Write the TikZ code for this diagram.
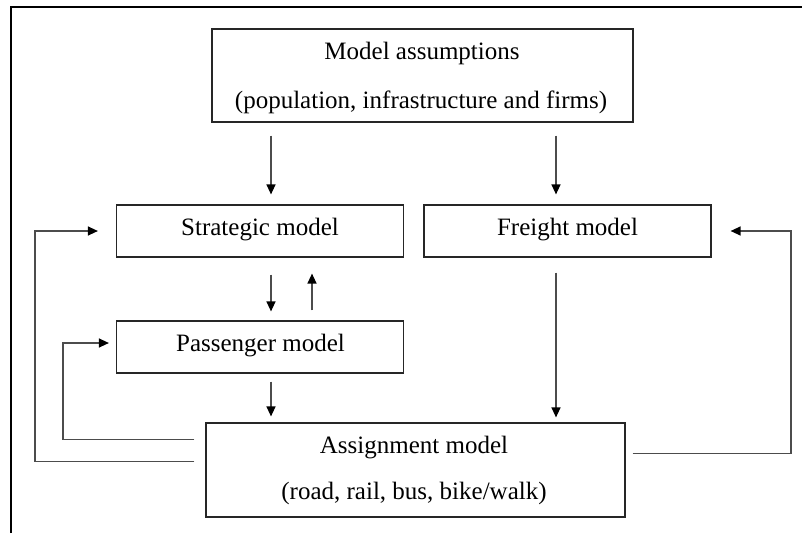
\documentclass[tikz,border=0pt]{standalone}
\usepackage{fontspec}
\setmainfont{Liberation Serif}
\usetikzlibrary{arrows.meta}
\begin{document}
\begin{tikzpicture}[x=1pt,y=-1pt,
  box/.style={draw=black!85, line width=1.2pt, rectangle, inner sep=0pt},
  txt/.style={anchor=base, inner sep=0pt, font=\fontsize{25}{30}\selectfont, text=black},
  arr/.style={draw=black!70, line width=1.3pt, -{Triangle[length=10pt,width=9pt,color=black]}},
  frameline/.style={draw=black, line width=2.2pt}]
\useasboundingbox (0,0) rectangle (802,533);
\draw[frameline] (11,533) -- (11,7) -- (802,7);

% boxes
\node[box, minimum width=421pt, minimum height=93pt] (ma) at (422.5,75.5) {};
\node[txt] (ma1) at (422,59) {Model assumptions};
\node[txt] (ma2) at (421,108) {(population, infrastructure and firms)};

\node[box, minimum width=287pt, minimum height=52pt] (sm) at (260,231) {};
\node[txt] (smt) at (260,235) {Strategic model};

\node[box, minimum width=287pt, minimum height=52pt] (fm) at (567.5,231) {};
\node[txt] (fmt) at (567.5,235) {Freight model};

\node[box, minimum width=287pt, minimum height=52pt] (pm) at (260,347) {};
\node[txt] (pmt) at (260.5,351) {Passenger model};

\node[box, minimum width=419pt, minimum height=94pt] (am) at (415.5,470) {};
\node[txt] (am1) at (414,453) {Assignment model};
\node[txt] (am2) at (414,499) {(road, rail, bus, bike/walk)};

% columns
\coordinate (cA) at (271,0);
\coordinate (cB) at (312,0);
\coordinate (cC) at (556,0);
\coordinate (cL) at (35,0);
\coordinate (cP) at (63,0);
\coordinate (cR) at (791,0);
\coordinate (pmA) at ([yshift=4pt]pm.west);

% vertical arrows
\draw[arr, shorten <=13pt, shorten >=10pt] (cA |- ma.south) -- (cA |- sm.north);
\draw[arr, shorten <=13pt, shorten >=10pt] (cC |- ma.south) -- (cC |- fm.north);
\draw[arr, shorten <=17pt, shorten >=9pt] (cA |- sm.south) -- (cA |- pm.north);
\draw[arr, shorten <=10pt, shorten >=16pt] (cB |- pm.north) -- (cB |- sm.south);
\draw[arr, shorten <=8pt, shorten >=6pt] (cA |- pm.south) -- (cA |- am.north);
\draw[arr, shorten <=15pt, shorten >=5pt] (cC |- fm.south) -- (cC |- am.north);

% feedback loops
\draw[arr, shorten >=18pt] ([xshift=-11pt,yshift=-39pt]am.north west) -| (cL |- sm.west) -- (sm.west);
\draw[arr, shorten >=7pt] ([xshift=-11pt,yshift=-17pt]am.north west) -| (cP |- pmA) -- (pmA);
\draw[arr, shorten >=19pt] ([xshift=7pt,yshift=-31pt]am.north east) -| (cR |- fm.east) -- (fm.east);
\end{tikzpicture}
\end{document}
